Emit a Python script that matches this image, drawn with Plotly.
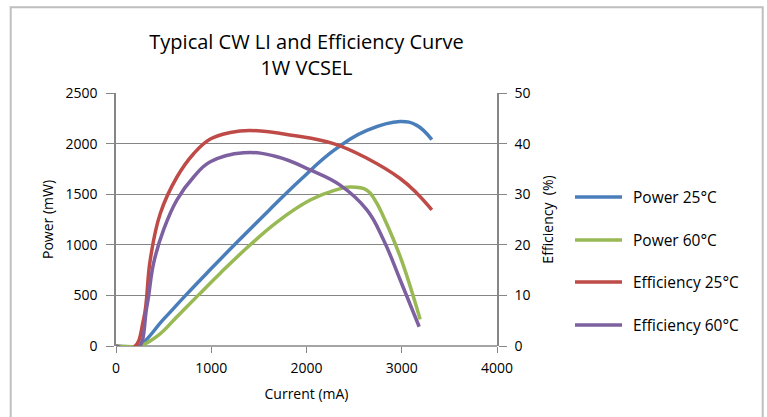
import plotly.graph_objects as go

# Data
cur_p25 = [0, 120, 237, 500, 738, 1000, 1270, 1600, 1934, 2283, 2634, 2983, 3158, 3316]
pow_p25 = [0, -8, 0, 265, 508, 765, 1025, 1335, 1640, 1930, 2130, 2219, 2180, 2039]

cur_p60 = [0, 120, 250, 450, 640, 867, 1100, 1392, 1690, 2039, 2300, 2458, 2634, 2720, 2808, 2983, 3193]
pow_p60 = [0, -6, 0, 110, 290, 505, 725, 985, 1225, 1442, 1540, 1570, 1540, 1440, 1278, 885, 263]

cur_e25 = [0, 185, 290, 360, 465, 640, 815, 990, 1200, 1409, 1864, 2283, 2634, 2983, 3158, 3316]
eff_e25 = [0, -0.3, 5.3, 17.1, 26.2, 33.4, 38.0, 40.9, 42.2, 42.6, 41.6, 40.0, 37.1, 33.1, 30.2, 26.9]

cur_e60 = [0, 220, 325, 395, 500, 640, 815, 990, 1340, 1690, 2039, 2353, 2634, 2808, 2983, 3183]
eff_e60 = [0, -0.65, 7.9, 16.4, 23.0, 28.9, 33.4, 36.4, 38.2, 37.4, 34.8, 31.8, 26.9, 21.0, 13.1, 3.8]

names = ["Power 25°C", "Power 60°C", "Efficiency 25°C", "Efficiency 60°C"]
colors = ["#4A7EBB", "#98B954", "#BE4B48", "#7D60A0"]

FONT = "Open Sans"

fig = go.Figure()
series = [(cur_p25, pow_p25, "y"), (cur_p60, pow_p60, "y"),
          (cur_e25, eff_e25, "y2"), (cur_e60, eff_e60, "y2")]
for i, (xs, ys, ax) in enumerate(series):
    fig.add_trace(go.Scatter(
        x=xs, y=ys, name=names[i], yaxis=ax, mode="lines",
        line=dict(color=colors[i], width=3.5, shape="spline", smoothing=1.2),
        showlegend=False,
    ))

# plot area geometry (pixels) for paper-coordinate conversions
L, R, T, B = 116, 497, 93, 346
def px(x):
    return (x - L) / (R - L)
def py(y):
    return (B - y) / (B - T)

grid = "#868686"
shapes = [
    dict(type="rect", xref="paper", yref="paper",
         x0=px(10.7), x1=px(762.7), y0=py(470), y1=py(7.3),
         line=dict(color="#BFBFBF", width=2), layer="below"),
    dict(type="line", xref="paper", yref="paper", x0=0, x1=1, y0=0, y1=0,
         line=dict(color=grid, width=1.5), layer="below"),
]
annotations = []
leg_y = [197, 240, 282, 325]
for i, name in enumerate(names):
    shapes.append(dict(type="line", xref="paper", yref="paper",
                       x0=px(575), x1=px(622), y0=py(leg_y[i]), y1=py(leg_y[i]),
                       line=dict(color=colors[i], width=3.5)))
    annotations.append(dict(text=name, xref="paper", yref="paper",
                            x=px(631), y=py(leg_y[i]), xanchor="left", yanchor="middle",
                            showarrow=False, font=dict(family=FONT, size=15.5, color="#000")))

fig.update_layout(
    width=767, height=417,
    margin=dict(l=L, r=767 - R, t=T, b=417 - B),
    paper_bgcolor="white", plot_bgcolor="white",
    font=dict(family=FONT, size=14, color="#000000"),
    title=dict(text="Typical CW LI and Efficiency Curve<br>1W VCSEL",
               x=306.5 / 767, xanchor="center", y=1 - 49 / 417, yanchor="middle",
               font=dict(family=FONT, size=20, color="#000000")),
    showlegend=False,
    xaxis=dict(range=[0, 4000], dtick=1000, tick0=0, showgrid=False,
               showline=False, zeroline=False, ticks="outside", ticklen=6,
               tickcolor=grid, tickfont=dict(size=14), ticklabelstandoff=3,
               title=dict(text="Current (mA)", font=dict(size=14), standoff=13)),
    yaxis=dict(range=[0, 2500], dtick=500, tick0=0, showgrid=True, gridcolor=grid,
               gridwidth=1, showline=True, linecolor=grid, linewidth=1.5,
               zeroline=False, ticks="outside", ticklen=8, tickcolor=grid,
               tickfont=dict(size=14), ticklabelstandoff=6,
               title=dict(text="Power (mW)", font=dict(size=14), standoff=9)),
    yaxis2=dict(range=[0, 50], dtick=10, tick0=0, overlaying="y", side="right",
                showgrid=False, showline=True, linecolor=grid, linewidth=1.5,
                zeroline=False, ticks="outside", ticklen=8, tickcolor=grid,
                tickfont=dict(size=14), ticklabelstandoff=5,
                title=dict(text="Efficiency  (%)", font=dict(size=14), standoff=14)),
    shapes=shapes,
    annotations=annotations,
)

fig.write_html("out.html")
